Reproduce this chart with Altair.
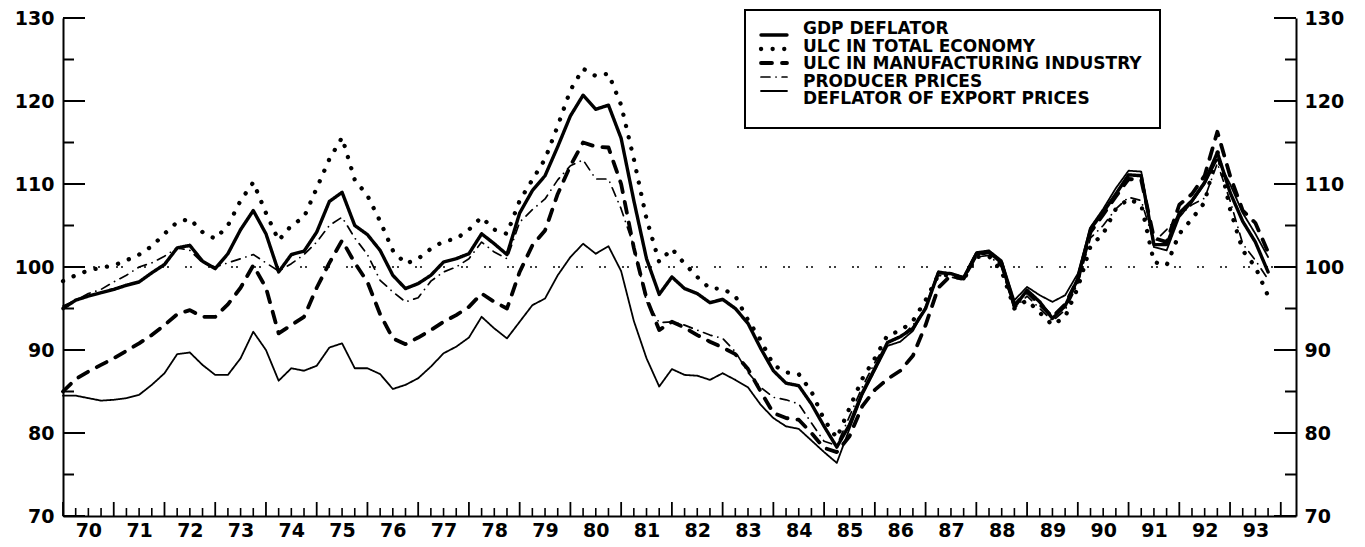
import altair as alt
import pandas as pd

# ---------------- data (quarterly, 1970Q1 .. 1993Q4) ----------------
quarters = [1970 + i / 4 for i in range(96)]

gdp_deflator = [
    95.0, 96.0, 96.5, 96.9, 97.3, 97.8, 98.2, 99.3,
    100.3, 102.3, 102.6, 100.7, 99.8, 101.6, 104.5, 106.8,
    104.0, 99.4, 101.5, 101.9, 104.2, 107.9, 109.0, 105.0,
    103.9, 102.0, 99.0, 97.4, 98.0, 99.0, 100.6, 101.0,
    101.6, 104.0, 102.8, 101.5, 106.5, 109.2, 111.0, 114.5,
    118.2, 120.7, 119.0, 119.5, 115.5, 108.0, 101.0, 96.7,
    98.8, 97.4, 96.8, 95.7, 96.1, 95.0, 93.2, 90.2,
    87.5, 86.0, 85.7, 83.5, 80.8, 78.3, 81.0, 84.8,
    87.8, 90.9, 91.6, 92.6, 95.0, 99.3, 99.2, 98.7,
    101.6, 101.8, 100.5, 95.2, 97.2, 95.8, 93.8, 95.3,
    98.6, 104.6, 106.6, 108.8, 111.1, 111.0, 102.7, 102.7,
    106.5, 108.0, 110.2, 113.8, 109.0, 105.5, 103.0, 99.4,
]

ulc_total = [
    98.3, 99.0, 99.6, 99.9, 100.2, 100.8, 101.5, 102.5,
    104.0, 105.4, 105.8, 104.2, 103.4, 105.0, 108.0, 110.2,
    106.5, 103.2, 105.0, 106.0, 109.5, 113.0, 115.6, 110.5,
    108.6, 105.5, 102.0, 100.4, 101.0, 102.2, 103.1, 103.4,
    104.5, 106.0, 104.5, 104.0, 108.0, 110.5, 113.0, 117.0,
    121.3, 123.9, 123.0, 123.3, 119.5, 113.0, 105.8, 100.6,
    102.2, 100.4, 98.8, 97.4, 97.4, 96.5, 93.6, 91.2,
    88.2, 87.3, 87.1, 85.0, 81.6, 79.4, 83.0, 86.5,
    89.0, 91.8, 92.3, 93.5, 96.0, 99.0, 99.0, 98.5,
    101.2, 101.3, 99.5, 95.0, 96.0, 94.5, 93.0, 94.0,
    97.5, 102.5, 104.0, 107.0, 108.2, 107.5, 100.6, 100.2,
    104.0, 105.8, 107.8, 114.0, 107.0, 102.0, 100.0, 96.5,
]

ulc_manufacturing = [
    85.0, 86.5, 87.4, 88.2, 89.0, 89.9, 90.8, 91.8,
    93.0, 94.3, 94.8, 94.0, 94.0, 95.5, 97.5, 100.2,
    97.5, 92.0, 93.0, 94.0, 97.5, 100.5, 103.2, 100.5,
    98.2, 94.3, 91.4, 90.7, 91.5, 92.4, 93.4, 94.2,
    95.2, 96.8, 95.8, 95.0, 99.4, 102.6, 104.4, 108.8,
    112.2, 115.0, 114.5, 114.4, 110.0, 102.3, 96.2, 92.4,
    93.4, 92.7, 91.8, 91.0, 90.3, 89.5, 87.7, 85.0,
    82.4, 81.8, 81.6, 80.0, 78.2, 77.7, 79.6, 83.2,
    85.2, 86.5, 87.5, 89.3, 93.0, 97.5, 99.0, 98.6,
    101.5, 101.8, 100.3, 95.4, 97.0, 95.5, 94.0, 95.5,
    98.5, 104.2, 106.3, 108.5, 110.6, 110.5, 103.5, 103.0,
    107.5, 108.8, 111.0, 116.3, 111.0, 106.8, 105.3, 101.8,
]

producer_prices = [
    95.3, 96.0, 96.8, 97.3, 98.2, 99.0, 100.0, 100.5,
    101.3, 102.3, 102.0, 100.5, 100.0, 100.5, 101.0, 101.5,
    100.5, 99.5, 100.4, 101.5, 103.0, 105.0, 106.0, 103.5,
    101.5, 98.4, 97.0, 95.8, 96.3, 98.3, 99.4, 100.0,
    101.0, 103.0, 101.8, 101.0, 105.4, 106.9, 108.2, 110.5,
    112.2, 112.9, 110.6, 110.6, 107.0, 102.5, 95.8, 93.3,
    93.4, 93.0, 92.4, 91.8, 91.4, 89.8, 87.3, 85.5,
    84.3, 84.0, 83.5, 81.2, 79.0, 78.5, 82.0, 85.5,
    88.5, 91.0, 91.5, 93.0, 95.0, 99.0, 98.8, 98.4,
    101.2, 101.4, 100.0, 95.0, 96.5, 95.0, 93.5, 94.8,
    98.0, 103.5, 105.0, 107.0, 108.4, 108.0, 103.0, 104.5,
    106.2, 107.5, 108.3, 112.5, 108.0, 102.8, 100.8, 98.5,
]

export_deflator = [
    84.5, 84.5, 84.2, 83.9, 84.0, 84.2, 84.6, 85.8,
    87.2, 89.5, 89.7, 88.2, 87.0, 87.0, 89.0, 92.2,
    90.0, 86.3, 87.8, 87.5, 88.1, 90.3, 90.8, 87.8,
    87.8, 87.1, 85.3, 85.8, 86.6, 88.0, 89.6, 90.4,
    91.5, 94.0, 92.6, 91.4, 93.4, 95.4, 96.2, 99.0,
    101.2, 102.8, 101.6, 102.5, 99.5, 93.5, 89.0, 85.6,
    87.7, 87.0, 86.9, 86.4, 87.2, 86.4, 85.5, 83.4,
    81.8, 80.8, 80.5, 79.1, 77.7, 76.4, 80.5, 84.5,
    87.5, 90.5, 91.0, 92.3, 95.2, 99.5, 99.2, 98.8,
    101.8, 102.0, 100.8, 96.0, 97.6, 96.6, 95.8, 96.6,
    99.2, 104.8, 107.0, 109.5, 111.6, 111.5, 102.4, 102.0,
    106.0, 107.8, 110.0, 113.0, 110.0, 106.5, 104.0, 101.2,
]

series_names = [
    "GDP DEFLATOR",
    "ULC IN TOTAL ECONOMY",
    "ULC IN MANUFACTURING INDUSTRY",
    "PRODUCER PRICES",
    "DEFLATOR OF EXPORT PRICES",
]
series_values = [gdp_deflator, ulc_total, ulc_manufacturing, producer_prices, export_deflator]

# axis / tick positions
year_ticks = list(range(1970, 1995))
quarter_ticks = [y + q / 4 for y in range(1970, 1994) for q in (1, 2, 3)]
year_label_pos = [y + 0.5 for y in range(1970, 1994)]
y_major = [70, 80, 90, 100, 110, 120, 130]
y_minor = [75, 85, 95, 105, 115, 125]
reference_level = [100]

# ---------------- styling ----------------
W, H = 1233, 498
TOP = 10
FONT = "DejaVu Sans"
X_DOMAIN = [1970, 1994.3]
Y_DOMAIN = [70, 130]

dash_range = [[1, 0], [0.1, 11.5], [11, 10], [9, 6, 0.1, 6], [1, 0]]
width_range = [3.4, 4.3, 3.8, 1.7, 1.8]

rows = []
for name, vals in zip(series_names, series_values):
    for t, v in zip(quarters, vals):
        rows.append({"series": name, "t": t, "v": v})
df = pd.DataFrame(rows)

xscale = alt.Scale(domain=X_DOMAIN, nice=False, zero=False)
xaxis = alt.Axis(
    values=year_label_pos,
    labelExpr="format(floor(datum.value) % 100, '02d')",
    ticks=False, grid=False, domain=True, domainColor="black", domainWidth=2,
    labelFont=FONT, labelFontSize=19, labelFontWeight="bold", labelColor="black",
    labelPadding=5, title=None, labelFlush=False, labelOverlap=False,
)


def yscale():
    return alt.Scale(domain=Y_DOMAIN, nice=False, zero=False)


yaxis_left = alt.Axis(
    values=y_major, ticks=False, grid=False, domain=True, domainColor="black",
    domainWidth=2, labelFont=FONT, labelFontSize=19, labelFontWeight="bold",
    labelColor="black", labelPadding=9, title=None, orient="left",
)
yaxis_right = alt.Axis(
    values=y_major, ticks=False, grid=False, domain=True, domainColor="black",
    domainWidth=2, labelFont=FONT, labelFontSize=19, labelFontWeight="bold",
    labelColor="black", labelPadding=8, title=None, orient="right",
)

dash_scale = alt.Scale(domain=series_names, range=dash_range)
width_scale = alt.Scale(type="ordinal", domain=series_names, range=width_range)

ref_df = pd.DataFrame({"v": reference_level})
ref_line = alt.Chart(ref_df).mark_rule(
    color="black", strokeWidth=1.6, strokeDash=[2, 3, 2, 16]
).encode(y=alt.Y("v:Q", scale=yscale(), axis=None))

lines = alt.Chart(df).mark_line(color="black", strokeCap="round", strokeJoin="round").encode(
    x=alt.X("t:Q", scale=xscale, axis=xaxis),
    y=alt.Y("v:Q", scale=yscale(), axis=yaxis_left),
    strokeDash=alt.StrokeDash("series:N", scale=dash_scale, legend=None),
    strokeWidth=alt.StrokeWidth("series:N", scale=width_scale, legend=None),
    detail="series:N",
)

yt_major = pd.DataFrame({"v": y_major})
yt_minor = pd.DataFrame({"v": y_minor})
left_major = alt.Chart(yt_major).mark_rule(color="black", strokeWidth=2).encode(
    y=alt.Y("v:Q", scale=yscale(), axis=None), x=alt.value(0), x2=alt.value(22))
left_minor = alt.Chart(yt_minor).mark_rule(color="black", strokeWidth=2).encode(
    y=alt.Y("v:Q", scale=yscale(), axis=None), x=alt.value(0), x2=alt.value(11))
right_major = alt.Chart(yt_major).mark_rule(color="black", strokeWidth=2).encode(
    y=alt.Y("v:Q", scale=yscale(), axis=yaxis_right), x=alt.value(W), x2=alt.value(W - 22))
right_minor = alt.Chart(yt_minor).mark_rule(color="black", strokeWidth=2).encode(
    y=alt.Y("v:Q", scale=yscale(), axis=None), x=alt.value(W), x2=alt.value(W - 11))

xt_year = pd.DataFrame({"t": year_ticks})
xt_quarter = pd.DataFrame({"t": quarter_ticks})
year_tick_marks = alt.Chart(xt_year).mark_rule(color="black", strokeWidth=1.8).encode(
    x=alt.X("t:Q", scale=xscale, axis=xaxis), y=alt.value(H), y2=alt.value(H - 14))
quarter_tick_marks = alt.Chart(xt_quarter).mark_rule(color="black", strokeWidth=1.6).encode(
    x=alt.X("t:Q", scale=xscale, axis=xaxis), y=alt.value(H), y2=alt.value(H - 8))

# ---------------- legend box (drawn with the same dash / width scales) ----------------
# page rows sit at y = 28 .. 98; plot top is at 8 + TOP
off = 8 + TOP
legend_df = pd.DataFrame({"series": series_names})
legend_row = alt.Scale(domain=series_names, range=[28 - off, 98 - off], padding=0)
legend_box = alt.Chart(pd.DataFrame({"box": [1]})).mark_rect(
    fill="white", stroke="black", strokeWidth=2
).encode(x=alt.value(682), x2=alt.value(1097), y=alt.value(10 - off), y2=alt.value(128 - off))
legend_symbols = alt.Chart(legend_df).mark_rule(color="black", strokeCap="round").encode(
    y=alt.Y("series:N", scale=legend_row, axis=None),
    x=alt.value(698), x2=alt.value(724),
    strokeDash=alt.StrokeDash("series:N", scale=dash_scale, legend=None),
    strokeWidth=alt.StrokeWidth("series:N", scale=width_scale, legend=None),
)
legend_labels = alt.Chart(legend_df).mark_text(
    align="left", baseline="middle", font=FONT, fontSize=17, fontWeight="bold",
    color="black", dy=1,
).encode(
    y=alt.Y("series:N", scale=legend_row, axis=None),
    x=alt.value(740),
    text="series:N",
)

chart = alt.layer(
    ref_line, lines, left_major, left_minor, right_major, right_minor,
    year_tick_marks, quarter_tick_marks, legend_box, legend_symbols, legend_labels,
).resolve_scale(y="independent").properties(
    width=W, height=H,
    autosize=alt.AutoSizeParams(type="none"),
    padding={"left": 55, "top": TOP, "right": 60, "bottom": 32},
    background="white",
).configure_view(stroke=None)

chart.save("out.html", embed_options={"renderer": "svg", "actions": False})
